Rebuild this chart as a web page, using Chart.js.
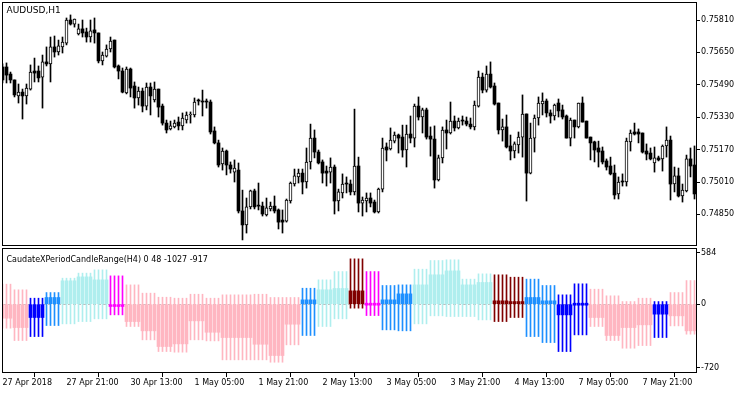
<!DOCTYPE html>
<html><head><meta charset="utf-8">
<script src="https://cdn.jsdelivr.net/npm/chart.js@4.4.0/dist/chart.umd.min.js"></script>
<style>
html,body{margin:0;padding:0;background:#fff;}
#wrap{position:relative;width:750px;height:394px;overflow:hidden;background:#fff;}
.pane{position:absolute;left:0;width:750px;}
canvas{display:block;}
</style></head><body>
<div id="wrap">
<div class="pane" style="top:0;height:248px"><canvas id="c1" width="750" height="248"></canvas></div>
<div class="pane" style="top:248px;height:146px"><canvas id="c2" width="750" height="146"></canvas></div>
</div>
<script>
// ---------- categories (H1 bars) ----------
const sessionDays = ['27 Apr','30 Apr','1 May','2 May','3 May','4 May','7 May','8 May'];
const sessionFirstHour = [5,0,0,0,0,0,0,0];
const sessionLastHour = [23,23,23,23,23,23,23,10];
const categories = [];
sessionDays.forEach((d,i)=>{for(let h=sessionFirstHour[i];h<=sessionLastHour[i];h++){categories.push(d+' '+String(h).padStart(2,'0')+':00');}});

// ---------- x tick labels ----------
const tickIndex = [0,16,32,48,64,80,96,112,128,144,160];
const tickLabels = ['27 Apr 2018','27 Apr 21:00','30 Apr 13:00','1 May 05:00','1 May 21:00','2 May 13:00','3 May 05:00','3 May 21:00','4 May 13:00','7 May 05:00','7 May 21:00'];

// ---------- price axis ----------
const priceTicks = [0.74850,0.75010,0.75170,0.75330,0.75490,0.75650,0.75810];
const rangeTicks = [584,0,-720];

// ---------- AUDUSD H1 OHLC ----------
const open = [0.75578,0.75578,0.75543,0.75514,0.75435,0.75454,0.75435,0.75469,0.75558,0.75558,
0.75528,0.75603,0.75593,0.75677,0.75652,0.75677,0.75696,0.75810,0.75790,0.75741,
0.75766,0.75751,0.75726,0.75761,0.75746,0.75608,0.75632,0.75667,0.75711,0.75583,
0.75558,0.75450,0.75568,0.75484,0.75425,0.75459,0.75385,0.75479,0.75415,0.75469,
0.75385,0.75301,0.75272,0.75282,0.75306,0.75287,0.75316,0.75341,0.75341,0.75410,
0.75410,0.75405,0.75405,0.75262,0.75203,0.75099,0.75163,0.75094,0.75059,0.75069,
0.74867,0.74798,0.74887,0.74966,0.74891,0.74891,0.74847,0.74877,0.74891,0.74872,
0.74822,0.74817,0.74916,0.75000,0.75035,0.75054,0.75010,0.75109,0.75227,0.75158,
0.75109,0.75064,0.75059,0.75084,0.74916,0.74956,0.75000,0.75000,0.74961,0.75089,
0.74906,0.74916,0.74931,0.74911,0.74862,0.74975,0.75183,0.75173,0.75212,0.75242,
0.75232,0.75168,0.75247,0.75227,0.75385,0.75331,0.75366,0.75237,0.75222,0.75020,
0.75129,0.75267,0.75252,0.75311,0.75277,0.75311,0.75311,0.75296,0.75282,0.75385,
0.75528,0.75464,0.75543,0.75484,0.75400,0.75267,0.75282,0.75188,0.75163,0.75193,
0.75232,0.75346,0.75054,0.75227,0.75326,0.75395,0.75410,0.75351,0.75336,0.75400,
0.75366,0.75336,0.75227,0.75316,0.75282,0.75400,0.75311,0.75232,0.75208,0.75178,
0.75163,0.75114,0.75089,0.75054,0.74951,0.75010,0.75010,0.75208,0.75257,0.75257,
0.75252,0.75163,0.75153,0.75104,0.75129,0.75124,0.75188,0.75217,0.75000,0.75040,
0.74941,0.74966,0.75124,0.75094];
const high = [0.75593,0.75598,0.75553,0.75514,0.75494,0.75469,0.75494,0.75588,0.75622,0.75583,
0.75637,0.75677,0.75726,0.75731,0.75711,0.75726,0.75820,0.75835,0.75815,0.75790,
0.75810,0.75770,0.75810,0.75820,0.75746,0.75652,0.75687,0.75726,0.75711,0.75588,
0.75573,0.75578,0.75573,0.75504,0.75479,0.75474,0.75499,0.75499,0.75504,0.75469,
0.75395,0.75316,0.75311,0.75316,0.75331,0.75351,0.75356,0.75356,0.75425,0.75420,
0.75464,0.75420,0.75415,0.75282,0.75217,0.75178,0.75168,0.75109,0.75119,0.75104,
0.74970,0.74931,0.74970,0.74975,0.75005,0.74911,0.74931,0.74911,0.74941,0.74877,
0.74872,0.74926,0.75010,0.75074,0.75074,0.75074,0.75178,0.75296,0.75267,0.75168,
0.75119,0.75089,0.75129,0.75094,0.74975,0.75050,0.75035,0.75020,0.75370,0.75133,
0.74936,0.74956,0.74956,0.74921,0.74980,0.75227,0.75203,0.75277,0.75257,0.75247,
0.75291,0.75291,0.75336,0.75395,0.75430,0.75375,0.75375,0.75282,0.75287,0.75143,
0.75282,0.75316,0.75405,0.75336,0.75326,0.75336,0.75331,0.75326,0.75410,0.75558,
0.75548,0.75583,0.75603,0.75499,0.75400,0.75321,0.75341,0.75242,0.75208,0.75257,
0.75440,0.75346,0.75301,0.75341,0.75430,0.75450,0.75420,0.75366,0.75395,0.75420,
0.75390,0.75341,0.75326,0.75316,0.75400,0.75430,0.75311,0.75232,0.75212,0.75212,
0.75183,0.75124,0.75133,0.75094,0.75035,0.75050,0.75227,0.75267,0.75301,0.75272,
0.75252,0.75198,0.75178,0.75183,0.75138,0.75193,0.75282,0.75237,0.75084,0.75079,
0.75000,0.75143,0.75178,0.75188];
const low = [0.75499,0.75499,0.75499,0.75430,0.75400,0.75321,0.75395,0.75464,0.75504,0.75504,
0.75375,0.75583,0.75504,0.75627,0.75637,0.75647,0.75687,0.75785,0.75775,0.75736,
0.75726,0.75701,0.75701,0.75696,0.75598,0.75588,0.75627,0.75652,0.75573,0.75519,
0.75450,0.75445,0.75430,0.75375,0.75390,0.75356,0.75366,0.75341,0.75405,0.75331,
0.75291,0.75252,0.75267,0.75277,0.75267,0.75267,0.75301,0.75301,0.75331,0.75390,
0.75336,0.75375,0.75247,0.75198,0.75084,0.75069,0.75045,0.75054,0.75010,0.74857,
0.74724,0.74758,0.74877,0.74877,0.74872,0.74842,0.74842,0.74867,0.74857,0.74778,
0.74758,0.74812,0.74906,0.74990,0.75005,0.74951,0.74980,0.75074,0.75129,0.75099,
0.75005,0.74990,0.75005,0.74852,0.74867,0.74931,0.74956,0.74946,0.74946,0.74862,
0.74842,0.74862,0.74887,0.74857,0.74857,0.74961,0.75114,0.75168,0.75203,0.75153,
0.75133,0.75084,0.75203,0.75183,0.75316,0.75252,0.75222,0.75138,0.74980,0.75015,
0.75104,0.75173,0.75247,0.75262,0.75272,0.75291,0.75287,0.75272,0.75267,0.75380,
0.75450,0.75454,0.75474,0.75390,0.75247,0.75212,0.75178,0.75119,0.75129,0.75153,
0.75133,0.74916,0.75050,0.75158,0.75291,0.75341,0.75331,0.75301,0.75316,0.75331,
0.75321,0.75227,0.75188,0.75227,0.75277,0.75306,0.75227,0.75119,0.75109,0.75084,
0.75099,0.75069,0.75045,0.74926,0.74926,0.74990,0.74990,0.75163,0.75242,0.75203,
0.75153,0.75119,0.75119,0.75059,0.75114,0.75064,0.75133,0.74921,0.74961,0.74936,
0.74911,0.74961,0.75035,0.74926];
const close = [0.75514,0.75538,0.75514,0.75440,0.75454,0.75435,0.75474,0.75553,0.75548,0.75524,
0.75603,0.75593,0.75677,0.75652,0.75682,0.75701,0.75810,0.75790,0.75815,0.75766,
0.75746,0.75726,0.75756,0.75746,0.75608,0.75637,0.75667,0.75706,0.75578,0.75558,
0.75454,0.75568,0.75474,0.75425,0.75459,0.75385,0.75479,0.75435,0.75469,0.75380,
0.75301,0.75267,0.75287,0.75301,0.75287,0.75326,0.75341,0.75346,0.75405,0.75410,
0.75405,0.75405,0.75257,0.75203,0.75094,0.75163,0.75094,0.75074,0.75079,0.74867,
0.74798,0.74887,0.74966,0.74887,0.74891,0.74852,0.74882,0.74891,0.74867,0.74812,
0.74812,0.74921,0.75005,0.75040,0.75054,0.75010,0.75109,0.75227,0.75158,0.75104,
0.75054,0.75054,0.75084,0.74916,0.74961,0.75000,0.75000,0.74961,0.75089,0.74906,
0.74921,0.74931,0.74906,0.74862,0.74975,0.75178,0.75168,0.75217,0.75242,0.75227,
0.75168,0.75247,0.75227,0.75385,0.75331,0.75366,0.75232,0.75222,0.75020,0.75129,
0.75267,0.75252,0.75311,0.75277,0.75311,0.75311,0.75296,0.75282,0.75390,0.75528,
0.75464,0.75543,0.75479,0.75395,0.75267,0.75282,0.75183,0.75163,0.75198,0.75232,
0.75346,0.75054,0.75227,0.75326,0.75400,0.75410,0.75351,0.75336,0.75390,0.75361,
0.75331,0.75227,0.75316,0.75282,0.75400,0.75306,0.75227,0.75203,0.75168,0.75158,
0.75109,0.75084,0.75050,0.74946,0.75010,0.75010,0.75212,0.75252,0.75247,0.75247,
0.75158,0.75148,0.75124,0.75129,0.75119,0.75188,0.75217,0.75000,0.75040,0.74941,
0.74970,0.75124,0.75089,0.74951];

// ---------- CaudateXPeriodCandleRange(H4): one entry per H4 candle ----------
const rangeClose = [-159,-265,-151,76,265,310,276,-26,-197,-302,-480,-450,-189,-318,-378,-378,-454,-582,-227,49,163,178,151,-15,49,117,219,333,378,219,246,38,30,76,38,-121,-5,-151,-355,-265,-234,-113,-132,-302];
const rangeHigh = [227,163,68,132,295,352,389,321,219,125,79,68,113,68,106,106,113,76,76,181,276,370,514,370,212,219,397,495,503,284,344,333,306,284,212,106,231,170,95,30,68,30,132,268];
const rangeLow = [-272,-412,-367,-242,-223,-197,-166,-121,-253,-404,-537,-544,-404,-416,-631,-631,-631,-658,-461,-355,-253,-166,-45,-129,-291,-302,-223,-132,-140,-140,-178,-197,-151,-367,-435,-537,-348,-253,-412,-499,-469,-378,-246,-340];
const rangeState = ['P','P','B','D','C','C','C','M','P','P','P','P','P','P','P','P','P','P','P','D','C','C','R','M','D','D','C','C','C','C','C','R','R','D','D','B','B','P','P','P','P','B','P','P'];

// ---------- styles ----------
const stateColor = {P:'#FFB6C1', C:'#AFEEEE', D:'#1E90FF', B:'#0000FF', M:'#FF00FF', R:'#800000'};
const FONT = {family:'"DejaVu Sans", Tahoma, sans-serif', size:8};
const X_MIN = -0.125, X_MAX = 173.625;

function noPad(s){ s.paddingTop = 0; s.paddingBottom = 0; s.paddingLeft = 0; s.paddingRight = 0; }

const framePlugin = {
  id:'frame',
  afterDraw(chart, args, opts){
    const {ctx, chartArea:a} = chart;
    ctx.save();
    ctx.strokeStyle = '#000'; ctx.lineWidth = 1;
    ctx.strokeRect(Math.round(a.left)+0.5, Math.round(a.top)+0.5, Math.round(a.right-a.left)-1, Math.round(a.bottom-a.top)-1);
    ctx.fillStyle = '#000';
    ctx.font = opts.size + 'px "DejaVu Sans", Tahoma, sans-serif';
    ctx.textBaseline = 'alphabetic'; ctx.textAlign = 'left';
    ctx.fillText(opts.title, opts.tx, opts.ty);
    ctx.restore();
  }
};
const zeroPlugin = {
  id:'zeroLine',
  beforeDatasetsDraw(chart){
    const {ctx, chartArea:a, scales} = chart;
    const y = Math.round(scales.y.getPixelForValue(0)) + 0.5;
    ctx.save();
    ctx.strokeStyle = '#c0c0c0'; ctx.lineWidth = 1; ctx.setLineDash([3,2]);
    ctx.beginPath(); ctx.moveTo(a.left+1, y); ctx.lineTo(a.right-1, y); ctx.stroke();
    ctx.restore();
  }
};

// ---------- top chart: candlesticks ----------
const bull = open.map((o,i)=>close[i] > o);
const candleBodies = categories.map((c,i)=>({x:i, y:[open[i], close[i]]}));
const candleWicks = categories.map((c,i)=>({x:i, y:[low[i], high[i]]}));

new Chart(document.getElementById('c1'), {
  type:'bar',
  data:{datasets:[
    {data:candleBodies, grouped:false, barThickness:3, minBarLength:1, borderSkipped:false,
     backgroundColor:c=>bull[c.dataIndex]?'#ffffff':'#000000', borderColor:'#000000',
     borderWidth:c=>bull[c.dataIndex]?1:0},
    {data:candleWicks, grouped:false, barThickness:1, borderWidth:0, backgroundColor:'#000000'}
  ]},
  options:{
    responsive:false, animation:false, events:[],
    plugins:{legend:{display:false}, tooltip:{enabled:false}, frame:{title:'AUDUSD,H1', tx:6.5, ty:13, size:9}},
    layout:{padding:{left:2, top:2, right:0, bottom:2}},
    scales:{
      x:{type:'linear', min:X_MIN, max:X_MAX, offset:false, display:false},
      y:{position:'right', min:0.746940, max:0.758989,
         afterFit(s){s.width = 53; noPad(s);},
         afterBuildTicks(s){s.ticks = priceTicks.map(v=>({value:v}));},
         ticks:{callback:v=>Number(v).toFixed(5), color:'#000', font:FONT, padding:1},
         grid:{drawOnChartArea:false, tickLength:3, color:'#000'},
         border:{display:false}}
    }
  },
  plugins:[framePlugin]
});

// ---------- bottom chart: H4 candle range ----------
const groupOf = categories.map((c,i)=>Math.floor((i+1)/4));
const rangeBodies = categories.map((c,i)=>({x:i, y:[0, rangeClose[groupOf[i]]]}));
const rangeWicks = categories.map((c,i)=>({x:i, y:[rangeLow[groupOf[i]], rangeHigh[groupOf[i]]]}));
const barColors = categories.map((c,i)=>stateColor[rangeState[groupOf[i]]]);

new Chart(document.getElementById('c2'), {
  type:'bar',
  data:{datasets:[
    {data:rangeBodies, grouped:false, barThickness:3, minBarLength:2, borderWidth:0, backgroundColor:barColors},
    {data:rangeWicks, grouped:false, barThickness:1, borderWidth:0, backgroundColor:barColors}
  ]},
  options:{
    responsive:false, animation:false, events:[],
    plugins:{legend:{display:false}, tooltip:{enabled:false}, frame:{title:'CaudateXPeriodCandleRange(H4) 0 48 -1027 -917', tx:6.5, ty:14, size:8}},
    layout:{padding:{left:2, top:0, right:0, bottom:0}},
    scales:{
      x:{type:'linear', min:X_MIN, max:X_MAX, offset:false,
         afterFit(s){s.height = 21; noPad(s);},
         afterBuildTicks(s){s.ticks = tickIndex.map(v=>({value:v}));},
         ticks:{align:'start', autoSkip:false, maxRotation:0, minRotation:0, color:'#000', font:FONT, padding:1,
                callback:(v,i)=>tickLabels[i]},
         grid:{drawOnChartArea:false, tickLength:4, color:'#000'},
         border:{display:false}},
      y:{position:'right', min:-780, max:637,
         afterFit(s){s.width = 53; noPad(s);},
         afterBuildTicks(s){s.ticks = rangeTicks.map(v=>({value:v}));},
         ticks:{callback:v=>String(v), color:'#000', font:FONT, padding:1},
         grid:{drawOnChartArea:false, tickLength:3, color:'#000'},
         border:{display:false}}
    }
  },
  plugins:[framePlugin, zeroPlugin]
});
</script>
</body></html>
